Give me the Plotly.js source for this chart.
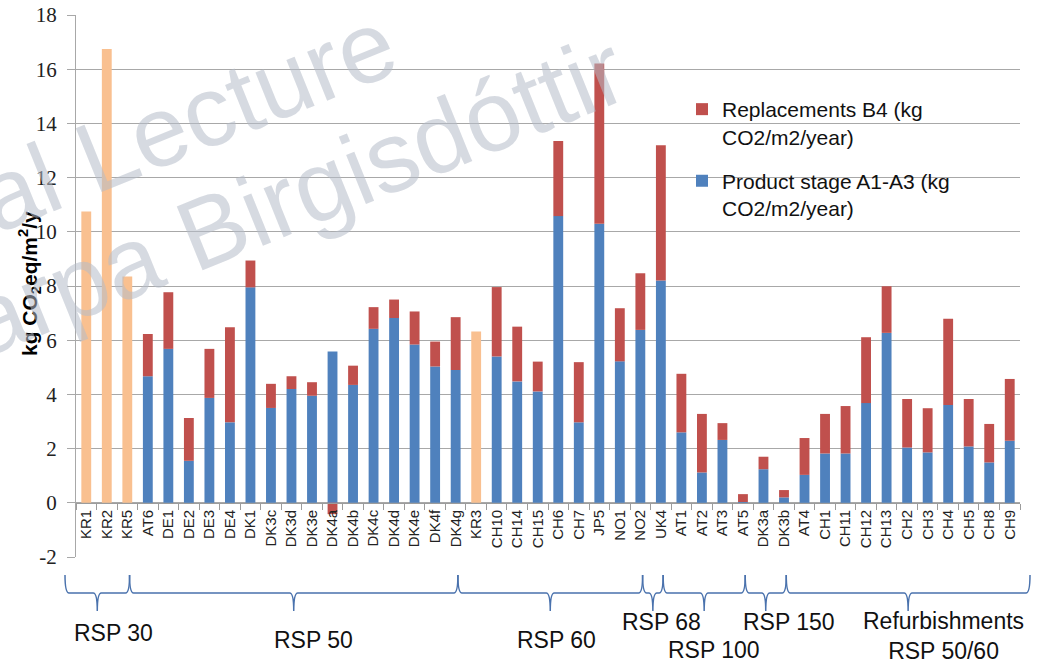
<!DOCTYPE html>
<html>
<head>
<meta charset="utf-8">
<script src="https://cdn.plot.ly/plotly-3.0.1.min.js"></script>
<style>html,body{margin:0;padding:0;background:#fff;}#chart{width:1042px;height:665px;}</style>
</head>
<body>
<div id="chart"></div>
<script>
// ---------- data ----------
const categories = ["KR1","KR2","KR5","AT6","DE1","DE2","DE3","DE4","DK1","DK3c","DK3d","DK3e","DK4a","DK4b","DK4c","DK4d","DK4e","DK4f","DK4g","KR3","CH10","CH14","CH15","CH6","CH7","JP5","NO1","NO2","UK4","AT1","AT2","AT3","AT5","DK3a","DK3b","AT4","CH1","CH11","CH12","CH13","CH2","CH3","CH4","CH5","CH8","CH9"];

// Product stage A1-A3 (blue, bottom of stack)
const productStage = [null,null,null,4.67,5.68,1.55,3.87,2.97,7.95,3.50,4.20,3.95,5.58,4.35,6.42,6.82,5.84,5.03,4.90,null,5.40,4.48,4.11,10.58,2.97,10.30,5.22,6.38,8.20,2.60,1.12,2.32,0.03,1.24,0.20,1.03,1.82,1.82,3.68,6.27,2.04,1.86,3.61,2.08,1.49,2.29];

// Replacements B4 (red, top of stack)
const replacements = [null,null,null,1.56,2.09,1.58,1.81,3.51,0.99,0.89,0.47,0.50,-0.42,0.71,0.80,0.68,1.22,0.92,1.95,null,2.56,2.02,1.10,2.77,2.22,5.91,1.96,2.09,4.99,2.16,2.16,0.62,0.29,0.46,0.27,1.36,1.46,1.75,2.43,1.72,1.79,1.63,3.18,1.75,1.42,2.28];

// Totals only (orange bars, KR cases)
const totalsOnly = [10.75,16.75,8.35,null,null,null,null,null,null,null,null,null,null,null,null,null,null,null,null,6.32,null,null,null,null,null,null,null,null,null,null,null,null,null,null,null,null,null,null,null,null,null,null,null,null,null,null];

const yTickVals = [-2,0,2,4,6,8,10,12,14,16,18];
const yTickText = ["-2","0","2","4","6","8","10","12","14","16","18"];

// RSP groups (category index ranges)
const groupNames  = ["RSP 30","RSP 50","RSP 60","RSP 68","RSP 100","RSP 150","Refurbishments<br>RSP 50/60"];
const groupStarts = [0,3,19,28,29,33,35];
const groupEnds   = [2,18,27,28,32,34,45];

const yTitle = 'kg CO<sub>2</sub>eq/m<sup>2</sup>/y';
const watermark = ['al Lecture', 'arpa Birgisdóttir'];

// ---------- layout helpers ----------
const W = 1042, H = 665;
const M = {l:76, r:22, t:15, b:108};
const PW = W - M.l - M.r, PH = H - M.t - M.b;
const px2x = p => (p - M.l) / PW;
const px2y = p => (H - M.b - p) / PH;
const nCat = categories.length;

const sans = "Liberation Sans, Arial, sans-serif";
const serif = "Liberation Serif";

const traces = [
  {type:'bar', x:categories, y:totalsOnly, name:'Total', marker:{color:'#f9c090'}, showlegend:false, hoverinfo:'x+y'},
  {type:'bar', x:categories, y:productStage, name:'Product stage A1-A3 (kg<br>CO2/m2/year)', marker:{color:'#4f81bd'}, legendgroup:'p', legendrank:2},
  {type:'bar', x:categories, y:replacements, name:'Replacements B4 (kg<br>CO2/m2/year)', marker:{color:'#c0504d'}, legendgroup:'r', legendrank:1}
];

// braces
const shapes = [];
const annotations = [];
const yTop = px2y(575), yMid = px2y(593), yTip = px2y(611);
const r = 4 / PW;
const shift = -8 / PW;
for (let g = 0; g < groupNames.length; g++) {
  let x0 = groupStarts[g] / nCat + shift;
  let x1 = (groupEnds[g] + 1) / nCat + shift;
  if (g === 0) x0 = -11 / PW;
  if (g === groupNames.length - 1) x1 = 1 + 10 / PW;
  const xc = (x0 + x1) / 2;
  const path = `M${x0},${yTop} Q${x0},${yMid} ${x0 + r},${yMid} L${xc - r},${yMid} Q${xc},${yMid} ${xc},${yTip} Q${xc},${yMid} ${xc + r},${yMid} L${x1 - r},${yMid} Q${x1},${yMid} ${x1},${yTop}`;
  shapes.push({type:'path', xref:'paper', yref:'paper', path:path, line:{color:'#4a72ad', width:1.5}});
}

// group labels (pixel-measured centres)
const labelPos = [[113,633],[313,640],[556,640],[661,622],[714,650],[789,622],[943,636]];
for (let g = 0; g < groupNames.length; g++) {
  annotations.push({
    xref:'paper', yref:'paper', x:px2x(labelPos[g][0]), y:px2y(labelPos[g][1]),
    text:groupNames[g], showarrow:false, xanchor:'center', yanchor:'middle',
    font:{family:sans, size:23, color:'#111'}
  });
}

// y-axis title
annotations.push({xref:'paper', yref:'paper', x:px2x(29), y:px2y(284), text:yTitle, showarrow:false,
  textangle:-90, xanchor:'center', yanchor:'middle', font:{family:sans, size:21, color:'#000', weight:'bold'}});

// watermark
const wmFont = {family:sans, size:100, color:'rgba(180,188,200,0.55)'};
annotations.push({xref:'paper', yref:'paper', x:px2x(186), y:px2y(120), text:watermark[0], showarrow:false, textangle:-22, xanchor:'center', yanchor:'middle', font:wmFont});
annotations.push({xref:'paper', yref:'paper', x:px2x(295), y:px2y(195), text:watermark[1], showarrow:false, textangle:-22, xanchor:'center', yanchor:'middle', font:wmFont});

const layout = {
  width:W, height:H,
  margin:M,
  paper_bgcolor:'#ffffff', plot_bgcolor:'#ffffff',
  barmode:'relative', bargap:0.52,
  showlegend:true,
  legend:{x:px2x(682), y:px2y(89), xanchor:'left', yanchor:'top', bgcolor:'rgba(0,0,0,0)',
          font:{family:sans, size:21, color:'#111'}, valign:'top', tracegroupgap:14, traceorder:'grouped'},
  xaxis:{type:'category', range:[-0.5, nCat - 0.5], anchor:'free', position:0.1,
         showline:true, linecolor:'#9c9c9c', linewidth:1, ticks:'outside', tickson:'boundaries',
         ticklen:6, tickcolor:'#9c9c9c', tickangle:-90, showgrid:false, zeroline:false,
         tickfont:{family:sans, size:15, color:'#222'}},
  yaxis:{range:[-2,18], tickvals:yTickVals, ticktext:yTickText, showgrid:true, gridcolor:'#a8a8a8',
         gridwidth:1, zeroline:false, showline:true, linecolor:'#a8a8a8', ticks:'outside', ticklen:8,
         tickcolor:'#a8a8a8', ticklabelstandoff:6, tickfont:{family:serif, size:21, color:'#222'}},
  shapes:shapes,
  annotations:annotations
};

Plotly.newPlot('chart', traces, layout, {displayModeBar:false, staticPlot:true});
</script>
</body>
</html>
